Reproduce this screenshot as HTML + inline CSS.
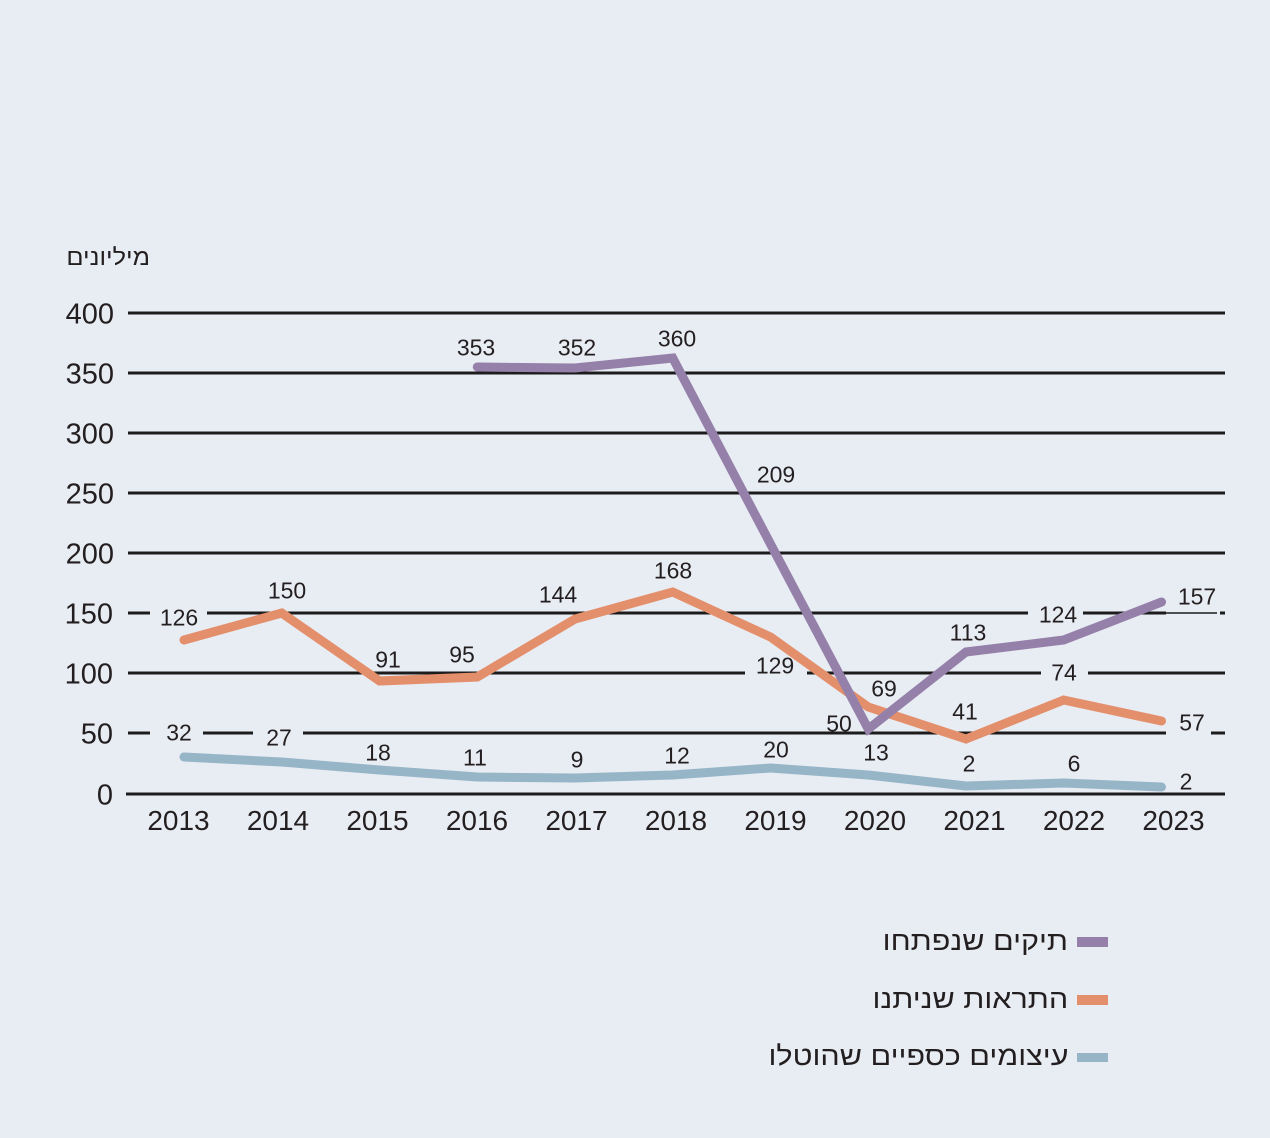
<!DOCTYPE html>
<html><head><meta charset="utf-8"><style>
html,body{margin:0;padding:0;background:#e8ecf3;}
.wrap{position:relative;width:1270px;height:1138px;background:#e8ecf3;overflow:hidden;}
svg{position:absolute;left:0;top:0;}
.heb{position:absolute;direction:rtl;text-align:right;white-space:nowrap;font-family:"Liberation Sans","DejaVu Sans",sans-serif;color:#231f20;transform-origin:100% 50%;}
</style></head><body><div class="wrap">
<svg width="1270" height="1138" viewBox="0 0 1270 1138" xmlns="http://www.w3.org/2000/svg">
<g stroke="#1c1c1c" stroke-width="3" fill="none">
<line x1="128" y1="313" x2="1225" y2="313"/>
<line x1="128" y1="373" x2="1225" y2="373"/>
<line x1="128" y1="433" x2="1225" y2="433"/>
<line x1="128" y1="493" x2="1225" y2="493"/>
<line x1="128" y1="553" x2="1225" y2="553"/>
<line x1="128" y1="613" x2="150" y2="613"/>
<line x1="207" y1="613" x2="1028" y2="613"/>
<line x1="1083" y1="613" x2="1166" y2="613"/>
<line x1="1166" y1="613" x2="1217" y2="613" stroke-width="1.5"/>
<line x1="1220" y1="613" x2="1225" y2="613"/>
<line x1="128" y1="673" x2="745" y2="673"/>
<line x1="807" y1="673" x2="1041" y2="673"/>
<line x1="1088" y1="673" x2="1225" y2="673"/>
<line x1="128" y1="733" x2="150" y2="733"/>
<line x1="203" y1="733" x2="253" y2="733"/>
<line x1="303" y1="733" x2="1166" y2="733"/>
<line x1="1211" y1="733" x2="1225" y2="733"/>
<line x1="126" y1="794" x2="1225" y2="794"/>
</g>
<g fill="none" stroke-width="9" stroke-linecap="round" stroke-linejoin="round">
<polyline stroke="#96b6c8" points="184,757 281.75,762 379.5,770 477.25,777 575,778 672.75,775 770.5,768 868.25,775 966,786 1063.75,783 1161.5,787"/>
<polyline stroke="#e48f6b" stroke-linejoin="miter" points="184,640 281.75,613 379.5,681 477.25,677 575,619 672.75,592 770.5,637 868.25,707 966,739 1063.75,700 1161.5,721"/>
<polyline stroke="#9580a9" stroke-linejoin="miter" points="477.25,367 575,368 672.75,358 770.5,544 868.25,729 966,652 1063.75,640 1161.5,602"/>
</g>
<g font-family="Liberation Sans, DejaVu Sans, sans-serif" font-size="29" fill="#231f20" text-anchor="end">
<text x="114" y="323.5">400</text>
<text x="114" y="383.5">350</text>
<text x="114" y="443.5">300</text>
<text x="114" y="503.5">250</text>
<text x="114" y="563.5">200</text>
<text x="113" y="623.5">150</text>
<text x="113" y="683.5">100</text>
<text x="113" y="743.5">50</text>
<text x="113" y="804.5">0</text>
</g>
<g font-family="Liberation Sans, DejaVu Sans, sans-serif" font-size="28" fill="#231f20" text-anchor="middle">
<text x="178.5" y="830">2013</text>
<text x="278" y="830">2014</text>
<text x="377.5" y="830">2015</text>
<text x="477" y="830">2016</text>
<text x="576.5" y="830">2017</text>
<text x="676" y="830">2018</text>
<text x="775.5" y="830">2019</text>
<text x="875" y="830">2020</text>
<text x="974.5" y="830">2021</text>
<text x="1074" y="830">2022</text>
<text x="1173.5" y="830">2023</text>
</g>
<g font-family="Liberation Sans, DejaVu Sans, sans-serif" font-size="23" fill="#231f20" text-anchor="middle">
<text x="476" y="355.5">353</text>
<text x="577" y="355.5">352</text>
<text x="677" y="346.5">360</text>
<text x="776" y="482.5">209</text>
<text x="839" y="731.5">50</text>
<text x="968" y="640.5">113</text>
<text x="1058" y="622.5">124</text>
<text x="1197" y="604.5">157</text>
<text x="179" y="625.5">126</text>
<text x="287" y="598.5">150</text>
<text x="388" y="667.5">91</text>
<text x="462" y="662.5">95</text>
<text x="558" y="602.5">144</text>
<text x="673" y="578.5">168</text>
<text x="775" y="673.5">129</text>
<text x="884" y="696.5">69</text>
<text x="965" y="719.5">41</text>
<text x="1064" y="680.5">74</text>
<text x="1192" y="730.5">57</text>
<text x="179" y="740.5">32</text>
<text x="279" y="745.5">27</text>
<text x="378" y="760.5">18</text>
<text x="475" y="765.5">11</text>
<text x="577" y="767.5">9</text>
<text x="677" y="763.5">12</text>
<text x="776" y="757.5">20</text>
<text x="876" y="760.5">13</text>
<text x="969" y="771.5">2</text>
<text x="1074" y="771.5">6</text>
<text x="1186" y="789.5">2</text>
</g>
<rect x="1077" y="937" width="31" height="10" fill="#9580a9"/>
<rect x="1077" y="995" width="31" height="10" fill="#e48f6b"/>
<rect x="1077" y="1053" width="31" height="9" fill="#96b6c8"/>
</svg>
<div class="heb" style="right:1120px;top:246px;font-size:23px;line-height:23px;transform:scaleX(1.1);">מיליונים</div>
<div class="heb" style="right:202px;top:928px;font-size:27px;line-height:27px;transform:scaleX(1.13);">תיקים שנפתחו</div>
<div class="heb" style="right:202px;top:986px;font-size:27px;line-height:27px;transform:scaleX(1.13);">התראות שניתנו</div>
<div class="heb" style="right:202px;top:1043px;font-size:27px;line-height:27px;transform:scaleX(1.13);">עיצומים כספיים שהוטלו</div>
</div></body></html>
